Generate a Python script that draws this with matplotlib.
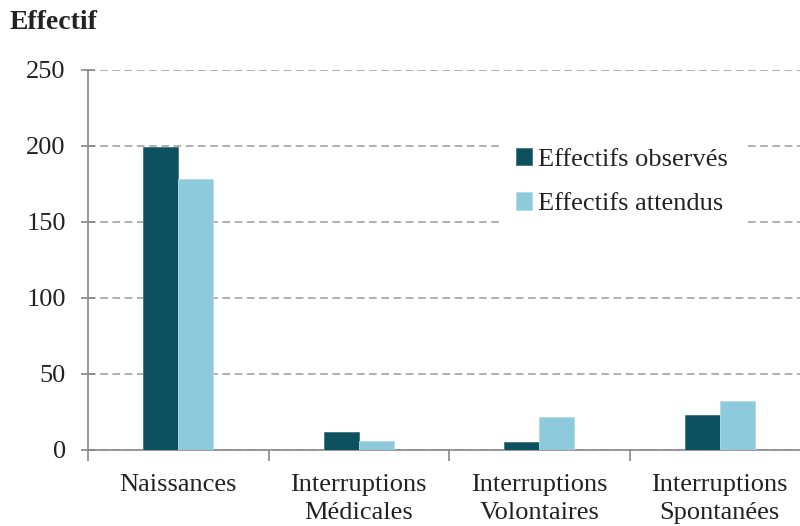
import numpy as np
import matplotlib.pyplot as plt
from matplotlib.ticker import FixedLocator

# données
categories = ["Naissances", "Interruptions\nMédicales", "Interruptions\nVolontaires", "Interruptions\nSpontanées"]
observes = [199, 12, 5, 23]
attendus = [178.5, 6, 22, 32]
yticks = [0, 50, 100, 150, 200, 250]

plt.rcParams['font.family'] = ['Liberation Serif', 'DejaVu Serif']

fig = plt.figure(figsize=(8, 5.26), dpi=100)
ax = fig.add_axes([0.11, 0.1445, 0.9025, 0.7225])

x = np.arange(len(categories))
w = 0.194
ax.bar(x - w / 2, observes, w, color="#0d5060", edgecolor="#3f7580", linewidth=0.6,
       label="Effectifs observés", zorder=3)
ax.bar(x + w / 2, attendus, w, color="#8dcbdc", edgecolor="#b0dde8", linewidth=0.6,
       label="Effectifs attendus", zorder=3)

ax.set_xlim(-0.5, 3.5)
ax.set_ylim(0, 250)
ax.set_yticks(yticks)
ax.yaxis.grid(True, linestyle=(0, (5, 3)), color="#9a9a9a", linewidth=1.1, zorder=0)

# graduations x aux frontières des catégories, étiquettes au centre
ax.xaxis.set_major_locator(FixedLocator(np.arange(-0.5, 4, 1)))
ax.xaxis.set_minor_locator(FixedLocator(x))
ax.set_xticklabels([])
ax.set_xticklabels(categories, minor=True, linespacing=1.4)
ax.tick_params(axis='x', which='major', length=8, width=1.2, color="#888888", direction='out')
ax.tick_params(axis='x', which='minor', length=0, labelsize=19, pad=17, labelcolor="#222222")
ax.tick_params(axis='y', length=10, width=1.2, color="#888888", direction='inout',
               labelsize=19, pad=11, labelcolor="#222222")

for s in ["top", "right"]:
    ax.spines[s].set_visible(False)
for s in ["left", "bottom"]:
    ax.spines[s].set_color("#888888")
    ax.spines[s].set_linewidth(1.2)

fig.text(0.012, 0.957, "Effectif", fontsize=20, fontweight="bold", va="center", ha="left",
         color="#222222")

# légende sur fond blanc (masque la grille)
leg = ax.legend(loc="upper left", bbox_to_anchor=(500 / 800, 1 - 132 / 526),
                bbox_transform=fig.transFigure, frameon=True, fancybox=False,
                facecolor="white", edgecolor="none", framealpha=1, fontsize=19,
                borderpad=0.6, borderaxespad=0, handlelength=0.6, handleheight=0.65,
                handletextpad=0.25, labelspacing=0.8, labelcolor="#222222")
leg.set_zorder(5)

fig.savefig("out.png", dpi=100)
